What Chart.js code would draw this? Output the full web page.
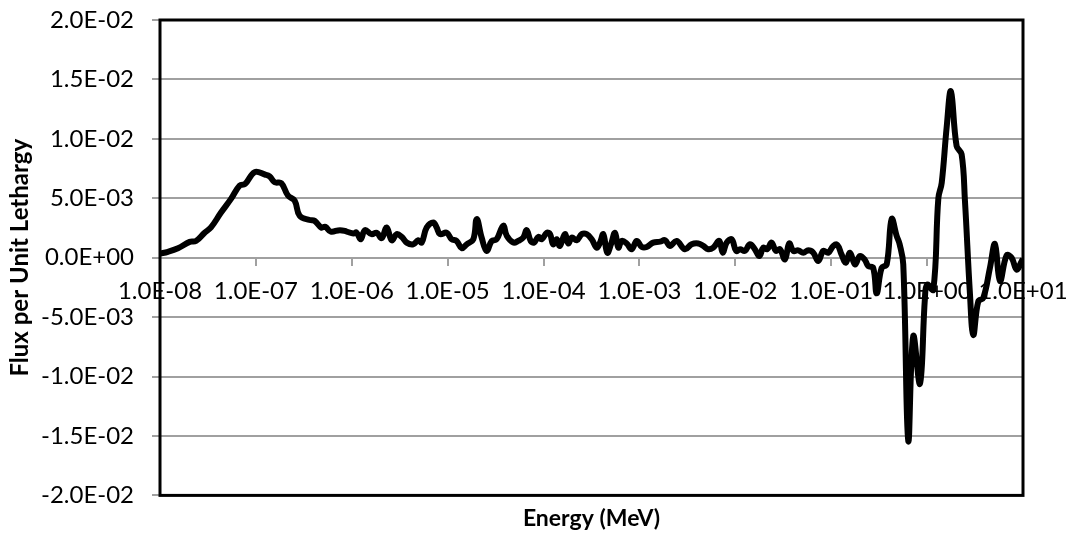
<!DOCTYPE html>
<html>
<head>
<meta charset="utf-8">
<title>Flux per Unit Lethargy</title>
<script src="https://cdn.jsdelivr.net/npm/chart.js@4.4.1/dist/chart.umd.min.js"></script>
<style>
  html, body { margin: 0; padding: 0; background: #fff; }
  #wrap { width: 1071px; height: 534px; }
</style>
</head>
<body>
<div id="wrap"><canvas id="fluxChart"></canvas></div>
<script>
// energy grid (MeV) and flux per unit lethargy
const energy = [
  1.00e-8, 1.21e-8, 1.54e-8, 2.04e-8, 2.37e-8, 2.92e-8, 3.40e-8, 4.33e-8, 5.50e-8, 6.78e-8,
  7.70e-8, 9.72e-8, 1.24e-7, 1.39e-7, 1.57e-7, 1.84e-7, 2.16e-7, 2.54e-7, 2.86e-7, 3.64e-7,
  4.10e-7, 4.81e-7, 5.30e-7, 6.03e-7, 7.53e-7, 8.85e-7, 1.04e-6, 1.12e-6, 1.24e-6, 1.37e-6,
  1.61e-6, 1.82e-6, 2.05e-6, 2.31e-6, 2.61e-6, 2.94e-6, 3.32e-6, 3.74e-6, 4.38e-6, 4.94e-6,
  5.36e-6, 6.04e-6, 7.08e-6, 7.68e-6, 8.32e-6, 9.77e-6, 1.10e-5, 1.24e-5, 1.40e-5, 1.58e-5,
  1.85e-5, 2.01e-5, 2.26e-5, 2.55e-5, 2.88e-5, 3.24e-5, 3.80e-5, 4.13e-5, 4.83e-5, 5.45e-5,
  6.15e-5, 6.67e-5, 7.34e-5, 7.95e-5, 8.81e-5, 9.56e-5, 1.08e-4, 1.17e-4, 1.26e-4, 1.37e-4,
  1.48e-4, 1.67e-4, 1.81e-4, 1.97e-4, 2.22e-4, 2.50e-4, 2.82e-4, 3.18e-4, 3.58e-4, 3.88e-4,
  4.20e-4, 4.62e-4, 5.05e-4, 5.56e-4, 6.02e-4, 6.53e-4, 7.36e-4, 8.30e-4, 9.36e-4, 1.06e-3,
  1.19e-3, 1.39e-3, 1.64e-3, 1.85e-3, 2.08e-3, 2.44e-3, 2.98e-3, 3.50e-3, 4.11e-3, 4.63e-3,
  5.22e-3, 5.89e-3, 6.80e-3, 7.38e-3, 8.12e-3, 9.16e-3, 1.02e-2, 1.12e-2, 1.26e-2, 1.42e-2,
  1.60e-2, 1.78e-2, 1.96e-2, 2.15e-2, 2.39e-2, 2.65e-2, 2.92e-2, 3.29e-2, 3.65e-2, 4.02e-2,
  4.53e-2, 5.11e-2, 5.76e-2, 6.50e-2, 7.33e-2, 8.26e-2, 9.31e-2, 1.05e-1, 1.16e-1, 1.28e-1,
  1.42e-1, 1.57e-1, 1.77e-1, 1.99e-1, 2.25e-1, 2.43e-1, 2.74e-1, 2.98e-1, 3.36e-1, 3.79e-1,
  4.27e-1, 4.81e-1, 5.17e-1, 5.64e-1, 6.36e-1, 7.17e-1, 8.42e-1, 9.49e-1, 1.00, 1.16,
  1.31, 1.42, 1.60, 1.77, 2.03, 2.29, 2.48, 2.80, 3.03, 3.42,
  3.85, 4.52, 5.10, 5.75, 6.75, 7.61, 8.58, 9.68, 10.0
];
const flux = [
  0.35e-3, 0.5e-3, 0.8e-3, 1.33e-3, 1.4e-3, 2.1e-3, 2.55e-3, 3.8e-3, 4.95e-3, 6.08e-3,
  6.2e-3, 7.2e-3, 7.0e-3, 6.85e-3, 6.35e-3, 6.27e-3, 5.23e-3, 4.8e-3, 3.53e-3, 3.17e-3,
  3.1e-3, 2.54e-3, 2.6e-3, 2.2e-3, 2.32e-3, 2.2e-3, 2.03e-3, 2.12e-3, 1.55e-3, 2.32e-3,
  1.98e-3, 2.1e-3, 1.64e-3, 2.54e-3, 1.47e-3, 1.98e-3, 1.75e-3, 1.27e-3, 1.13e-3, 1.47e-3,
  1.27e-3, 2.54e-3, 2.97e-3, 2.54e-3, 1.98e-3, 2.1e-3, 1.55e-3, 1.41e-3, 0.8e-3, 1.13e-3,
  1.55e-3, 3.25e-3, 1.7e-3, 0.57e-3, 1.41e-3, 1.55e-3, 2.69e-3, 1.84e-3, 1.27e-3, 1.41e-3,
  1.7e-3, 2.32e-3, 1.41e-3, 1.27e-3, 1.75e-3, 1.55e-3, 2.1e-3, 1.98e-3, 1.13e-3, 1.55e-3,
  0.99e-3, 1.98e-3, 1.2e-3, 1.7e-3, 1.47e-3, 1.98e-3, 1.98e-3, 1.55e-3, 0.85e-3, 1.27e-3,
  1.98e-3, 0.42e-3, 1.13e-3, 2.1e-3, 0.85e-3, 1.41e-3, 1.2e-3, 0.71e-3, 1.41e-3, 0.9e-3,
  0.9e-3, 1.27e-3, 1.35e-3, 1.47e-3, 0.99e-3, 1.41e-3, 0.71e-3, 1.13e-3, 1.2e-3, 0.99e-3,
  0.71e-3, 0.85e-3, 1.41e-3, 0.42e-3, 1.27e-3, 1.55e-3, 0.57e-3, 0.71e-3, 0.57e-3, 1.13e-3,
  0.71e-3, 0.14e-3, 0.85e-3, 0.71e-3, 1.27e-3, 0.57e-3, 0.71e-3, -0.14e-3, 1.2e-3, 0.57e-3,
  0.62e-3, 0.42e-3, 0.62e-3, 0.42e-3, -0.28e-3, 0.57e-3, 0.42e-3, 0.99e-3, 1.07e-3, 0.28e-3,
  -0.42e-3, 0.42e-3, -0.56e-3, 0.14e-3, -0.2e-3, -0.7e-3, -0.85e-3, -3.0e-3, -0.85e-3, -0.56e-3,
  3.25e-3, 1.84e-3, 1.13e-3, -0.56e-3, -15.4e-3, -6.6e-3, -10.6e-3, -3.4e-3, -2.26e-3, -2.7e-3,
  5.0e-3, 6.3e-3, 11.0e-3, 14.0e-3, 9.4e-3, 8.7e-3, 4.8e-3, -3.1e-3, -6.5e-3, -3.67e-3,
  -3.4e-3, -0.85e-3, 1.15e-3, -1.97e-3, 0.2e-3, 0.0, -1.0e-3, -0.3e-3, -0.1e-3
];

const xTicks = [1e-8, 1e-7, 1e-6, 1e-5, 1e-4, 1e-3, 1e-2, 1e-1, 1e0, 1e1];
const xTickLabels = ['1.0E-08', '1.0E-07', '1.0E-06', '1.0E-05', '1.0E-04',
  '1.0E-03', '1.0E-02', '1.0E-01', '1.0E+00', '1.0E+01'];
const yTicks = [-0.02, -0.015, -0.01, -0.005, 0, 0.005, 0.01, 0.015, 0.02];
const yTickLabels = ['-2.0E-02', '-1.5E-02', '-1.0E-02', '-5.0E-03', '0.0E+00',
  '5.0E-03', '1.0E-02', '1.5E-02', '2.0E-02'];

const FONT = 'Lato, "Open Sans", sans-serif';
const GRID = '#a0a0a0';

// black border round the plot area
const plotFrame = {
  id: 'plotFrame',
  afterDatasetsDraw(chart) {
    const { ctx, chartArea: a } = chart;
    ctx.save();
    ctx.strokeStyle = '#000';
    ctx.lineWidth = 3;
    ctx.strokeRect(a.left, a.top, a.right - a.left, a.bottom - a.top);
    ctx.restore();
  }
};

const points = energy.map((e, i) => ({ x: e, y: flux[i] }));

new Chart(document.getElementById('fluxChart'), {
  type: 'line',
  data: {
    datasets: [{
      data: points,
      borderColor: '#000',
      borderWidth: 6,
      pointRadius: 0,
      tension: 0.4,
      fill: false
    }]
  },
  options: {
    responsive: true,
    maintainAspectRatio: false,
    animation: false,
    layout: { padding: { top: 20, right: 48, left: 0, bottom: 0 } },
    plugins: {
      legend: { display: false },
      tooltip: { enabled: false },
      title: {
        display: true,
        position: 'bottom',
        fullSize: false,
        text: 'Energy (MeV)',
        color: '#000',
        font: { family: FONT, size: 23, weight: 'bold' },
        padding: { top: 9, bottom: 2 }
      }
    },
    scales: {
      x: {
        type: 'logarithmic',
        position: { y: 0 },
        min: 1e-8,
        max: 10,
        afterBuildTicks: s => { s.ticks = xTicks.map(v => ({ value: v })); },
        afterFit: s => { s.paddingLeft = 0; s.paddingRight = 0; },
        ticks: {
          autoSkip: false,
          maxRotation: 0,
          padding: 11,
          color: '#000',
          font: { family: FONT, size: 24 },
          callback: (v, i) => xTickLabels[i]
        },
        grid: { drawOnChartArea: false, color: GRID, lineWidth: 2, tickLength: 8 },
        border: { display: false }
      },
      y: {
        min: -0.02,
        max: 0.02,
        afterBuildTicks: s => { s.ticks = yTicks.map(v => ({ value: v })); },
        afterFit: s => { s.width = 160; s.paddingTop = 0; s.paddingBottom = 0; },
        ticks: {
          padding: 18,
          color: '#000',
          font: { family: FONT, size: 24 },
          callback: (v, i) => yTickLabels[i]
        },
        grid: { color: GRID, lineWidth: 2, tickLength: 8 },
        border: { color: GRID, width: 2 },
        title: {
          display: true,
          text: 'Flux per Unit Lethargy',
          color: '#000',
          font: { family: FONT, size: 24, weight: 'bold' },
          padding: { top: 6, bottom: 0 }
        }
      }
    }
  },
  plugins: [plotFrame]
});
</script>
</body>
</html>
